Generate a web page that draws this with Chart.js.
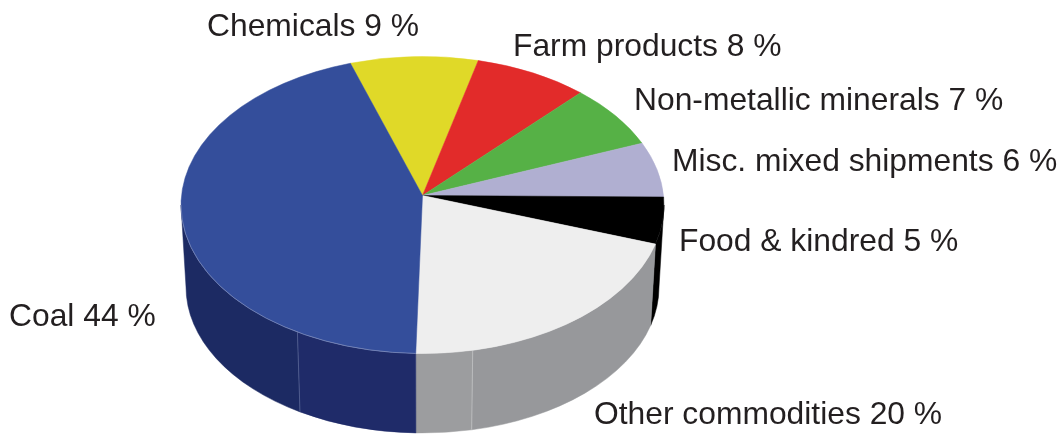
<!DOCTYPE html>
<html>
<head>
<meta charset="utf-8">
<style>
  html, body { margin: 0; padding: 0; background: #fff; }
  canvas { display: block; }
</style>
<script src="https://cdn.jsdelivr.net/npm/chart.js@4/dist/chart.umd.min.js"></script>
</head>
<body>
<canvas id="freightPie" width="1064" height="434"></canvas>
<script>
const categories = ['Chemicals', 'Farm products', 'Non-metallic minerals', 'Misc. mixed shipments', 'Food & kindred', 'Other commodities', 'Coal'];
const shares = [9, 8, 7, 6, 5, 20, 44];

const topColors = ['#e0d928', '#e22b2a', '#56b146', '#b0afd1', '#000000', '#eeeeee', '#344e9b'];
// side wall shade on each side of a facet seam
const sideColors = [null, null, null, null, ['#000000', '#000000'], ['#97989b', '#9c9d9f'], ['#1f2b69', '#1c2a63']];
const seamColors = ['#c4c5c7', '#5f6c9c'];
const seamAngles = [78, 121.2].map(d => d * Math.PI / 180);

// label anchors, left edge and baseline
const labelSpots = [[207, 36], [513, 56], [634, 110], [672, 171], [679, 251], [594, 424], [9, 326]];

// tilted disc: top rim, bottom rim, and how far the apex sits behind the rim centre
const topRim = { x: 422.5, y: 205, rx: 241.5, ry: 148.5 };
const bottomRim = { x: 422.5, y: 287, rx: 236.5, ry: 146 };
const apexShift = 9.5 / topRim.ry;

// perspective: a pie angle to the parameter on the rim ellipse
function rimAngle(theta) {
    const c = Math.cos(theta), s = Math.sin(theta);
    const k = 1 - apexShift * s;
    return Math.atan2((s - apexShift) / k, c * Math.sqrt(1 - apexShift * apexShift) / k);
}

function rimSpan(arc) {
    const from = rimAngle(arc.startAngle);
    let to = rimAngle(arc.endAngle);
    while (to < from) to += Math.PI * 2;
    return [from, to];
}

function wallFacet(ctx, a, b, color) {
    ctx.beginPath();
    ctx.ellipse(topRim.x, topRim.y, topRim.rx, topRim.ry, 0, a, b);
    ctx.ellipse(bottomRim.x, bottomRim.y, bottomRim.rx, bottomRim.ry, 0, b, a, true);
    ctx.closePath();
    ctx.fillStyle = color;
    ctx.strokeStyle = color;
    ctx.lineWidth = 0.5;
    ctx.fill();
    ctx.stroke();
}

const tiltedPie = {
    id: 'tiltedPie',
    beforeDatasetsDraw(chart) {
        const ctx = chart.ctx;
        const arcs = chart.getDatasetMeta(0).data;
        const apexY = topRim.y - apexShift * topRim.ry;

        ctx.save();
        // side walls, only the front half of the disc shows
        arcs.forEach((arc, i) => {
            if (!sideColors[i]) return;
            const [from, to] = rimSpan(arc);
            const a = Math.max(from, 0), b = Math.min(to, Math.PI);
            if (b <= a) return;
            const seam = seamAngles.find(s => s > a && s < b);
            if (seam) {
                wallFacet(ctx, a, seam, sideColors[i][0]);
                wallFacet(ctx, seam, b, sideColors[i][1]);
            } else {
                wallFacet(ctx, a, b, sideColors[i][0]);
            }
        });

        seamAngles.forEach((s, i) => {
            ctx.beginPath();
            ctx.moveTo(topRim.x + topRim.rx * Math.cos(s), topRim.y + topRim.ry * Math.sin(s));
            ctx.lineTo(bottomRim.x + bottomRim.rx * Math.cos(s), bottomRim.y + bottomRim.ry * Math.sin(s));
            ctx.strokeStyle = seamColors[i];
            ctx.lineWidth = 0.7;
            ctx.stroke();
        });

        // top face
        arcs.forEach((arc, i) => {
            const [from, to] = rimSpan(arc);
            ctx.beginPath();
            ctx.moveTo(topRim.x, apexY);
            ctx.ellipse(topRim.x, topRim.y, topRim.rx, topRim.ry, 0, from, to);
            ctx.closePath();
            ctx.fillStyle = topColors[i];
            ctx.strokeStyle = topColors[i];
            ctx.lineWidth = 0.5;
            ctx.fill();
            ctx.stroke();
        });

        // thin light edge where the coal face meets its wall
        const [coalFrom, coalTo] = rimSpan(arcs[arcs.length - 1]);
        ctx.beginPath();
        ctx.ellipse(topRim.x, topRim.y, topRim.rx, topRim.ry, 0, coalFrom, Math.min(coalTo, Math.PI));
        ctx.strokeStyle = '#8f9bc4';
        ctx.lineWidth = 0.6;
        ctx.stroke();
        ctx.restore();
        return false;
    },
    afterDraw(chart) {
        const ctx = chart.ctx;
        ctx.save();
        ctx.font = '31.8px "Liberation Sans", Arial, sans-serif';
        ctx.fillStyle = '#231f20';
        ctx.textBaseline = 'alphabetic';
        categories.forEach((name, i) => {
            ctx.fillText(name + ' ' + shares[i] + ' %', labelSpots[i][0], labelSpots[i][1]);
        });
        ctx.restore();
    }
};

new Chart(document.getElementById('freightPie'), {
    type: 'pie',
    data: {
        labels: categories,
        datasets: [{ data: shares, backgroundColor: topColors, borderWidth: 0 }]
    },
    options: {
        responsive: false,
        animation: false,
        rotation: -18.5,
        layout: { padding: 0 },
        plugins: { legend: { display: false }, tooltip: { enabled: false } }
    },
    plugins: [tiltedPie]
});
</script>
</body>
</html>
